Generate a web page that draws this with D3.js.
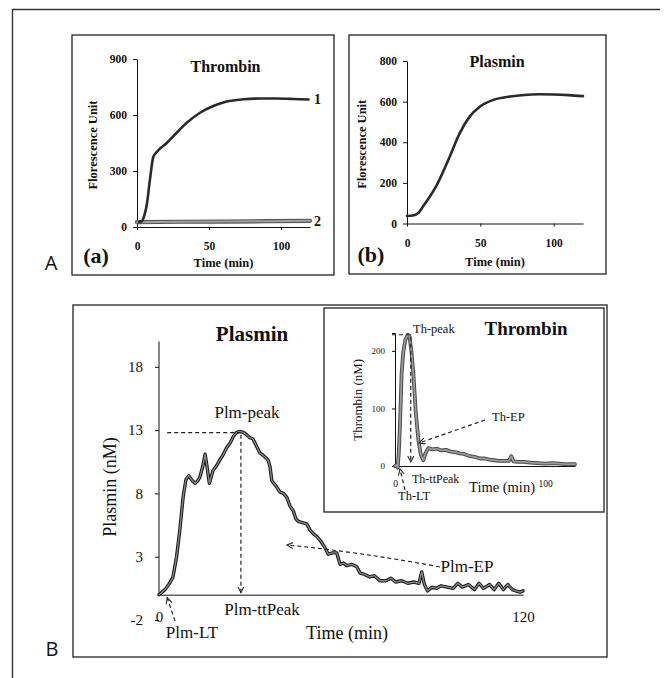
<!DOCTYPE html>
<html>
<head>
<meta charset="utf-8">
<script src="https://cdn.jsdelivr.net/npm/d3@7"></script>
<style>
  html, body { margin: 0; padding: 0; background: #fff; }
  svg { display: block; }
  text { font-family: "Liberation Serif", "DejaVu Serif", serif; fill: #111; }
  .sans { font-family: "Open Sans", "Liberation Sans", sans-serif; }
  .axis path, .axis line { stroke: #111; stroke-width: 1; }
  .box { fill: none; stroke: #222; stroke-width: 1.3; }
  .dash { fill: none; stroke: #222; stroke-width: 1.2; stroke-dasharray: 4 3; }
</style>
</head>
<body>
<svg id="fig" width="668" height="678"></svg>
<script>
// ---------- data ----------

// A(a) thrombin substrate fluorescence, curves 1 and 2
const aTime1  = [1.5, 3.2, 5, 6.7, 9, 11.3, 14.1, 20.6, 27.5, 34.5, 43.7, 52.9, 62.2, 73.7, 85.3, 96.8, 108.4, 119];
const aCurve1 = [26, 30, 60, 115, 255, 375, 405, 450, 505, 558, 612, 648, 672, 684, 688, 688, 686, 683];
const aTime2  = [0, 30, 60, 90, 120];
const aCurve2 = [26, 28, 29, 31, 33];
const aYTicks = [0, 300, 600, 900];

// A(b) plasmin substrate fluorescence
const bTime  = [0, 4, 7.5, 11, 15.5, 20, 24, 29.1, 35.9, 42.7, 49.6, 58.7, 70.2, 80, 90, 100, 110, 120];
const bCurve = [37, 39, 50, 85, 132, 185, 245, 329, 444, 526, 575, 608, 625, 633, 636, 635, 632, 627];
const bYTicks = [0, 200, 400, 600, 800];

const smallXTicks = [0, 50, 100];

// B plasmin generation (nM)
const plmTime = [0, 2, 3.5, 4.6, 5.8, 6.9, 8, 8.9, 9.8, 11, 11.9, 12.8, 13.5, 14.5, 15.2, 15.9, 16.6, 17.8, 19, 20,
  21, 22.3, 23.5, 24.5, 25.5, 26.7, 28, 29, 30, 31, 32.2, 33.3, 34.4, 35.3, 36, 36.6, 37.2, 38.5, 39.9, 41,
  42.1, 43.2, 44.3, 45.1, 45.9, 47.3, 48.7, 49.8, 50.9, 52, 53.1, 54.5, 55.8, 57.2, 58.6, 59.7, 60.8, 61.9, 63.5, 65.2,
  66.3, 67.8, 69.5, 71, 72.8, 74.7, 76.5, 78, 80, 82, 84, 85.7, 86.6, 87.5, 88.5, 90, 91.5, 93, 95, 97,
  98.5, 100, 102, 104, 105.5, 107, 109, 110.5, 112, 113.5, 115, 116.5, 117.6, 119, 120];
const plmConc = [0, 0.4, 0.9, 1.4, 3.0, 5.2, 7.8, 9.1, 9.4, 9.0, 8.8, 9.0, 9.3, 10.2, 11.1, 10.0, 8.8, 9.8, 10.2, 10.6,
  11.0, 11.6, 12.0, 12.5, 12.8, 12.9, 12.8, 12.6, 12.4, 12.3, 11.7, 11.2, 11.0, 10.8, 10.6, 10.1, 9.0, 8.6, 8.1, 8.0,
  7.7, 7.0, 6.6, 6.0, 5.8, 5.7, 5.6, 5.1, 4.8, 4.6, 4.3, 3.8, 3.2, 3.3, 3.3, 2.4, 2.5, 2.3, 2.4, 2.2,
  1.7, 1.6, 1.4, 1.5, 1.1, 1.1, 1.3, 1.0, 1.1, 0.9, 1.0, 0.9, 1.8, 0.8, 0.3, 0.6, 0.5, 0.7, 0.6, 0.5,
  0.9, 0.6, 0.8, 0.4, 0.9, 0.5, 0.8, 0.4, 0.9, 0.4, 0.8, 0.4, 0.3, 0.2, 0.3];
const plmYTicks = [-2, 3, 8, 13, 18];
const plmXTicks = [0, 120];
const plmPeak = { t: 27, v: 12.8 };

// B inset: thrombin generation (nM)
const thTime = [0, 1, 1.8, 2.5, 3.3, 4.4, 5.5, 7, 8.5, 9.6, 11, 12.2, 13.8, 15.6, 17.2, 18.9, 20.3, 22.2, 25, 28,
  31, 34, 37, 40, 43, 46, 50, 53, 56.7, 60, 63, 66, 69, 72, 76, 77.5, 79, 82, 86, 90,
  95, 100, 105, 110, 115, 120];
const thConc = [0, 2, -3, 22, 70, 160, 198, 220, 228, 226, 198, 162, 95, 45, 20, 10, 22, 31, 29, 30,
  27, 28, 25, 24, 22, 21, 17, 16, 13, 13, 11, 10, 9, 9, 9, 17, 8, 7, 7, 6,
  5, 4, 5, 4, 3, 3];
const thYTicks = [0, 100, 200];
const thXTicks = [0, 100];
const thPeak = { t: 10.5, v: 228 };

// ---------- drawing ----------
const svg = d3.select('#fig');
const plain = d => String(d);   // keep ascii hyphen for "-2"

const defs = svg.append('defs');
defs.append('marker')
    .attr('id', 'arr')
    .attr('viewBox', '0 0 8 8')
    .attr('refX', 7).attr('refY', 4)
    .attr('markerWidth', 7).attr('markerHeight', 7)
    .attr('markerUnits', 'userSpaceOnUse')
    .attr('orient', 'auto')
  .append('path')
    .attr('d', 'M0,0.5 L7,4 L0,7.5')
    .attr('fill', 'none')
    .attr('stroke', '#222')
    .attr('stroke-width', 1.2);

// outer frame (top and left edges only are visible)
svg.append('path')
    .attr('d', 'M12.5,678 L12.5,9.5 L660,9.5')
    .attr('fill', 'none').attr('stroke', '#333').attr('stroke-width', 1.4);

function txt(x, y, s, size, opts = {}) {
    const t = svg.append('text')
        .attr('x', x).attr('y', y)
        .attr('font-size', size)
        .attr('text-anchor', opts.anchor || 'middle')
        .attr('font-weight', opts.bold ? 'bold' : 'normal')
        .text(s);
    if (opts.rotate) t.attr('transform', `rotate(-90,${x},${y})`);
    if (opts.cls) t.attr('class', opts.cls);
    return t;
}

function styleAxis(g, size, bold) {
    g.attr('class', 'axis');
    g.selectAll('text')
        .attr('font-size', size)
        .attr('font-weight', bold ? 'bold' : 'normal')
        .attr('font-family', '"Liberation Serif", serif')
        .attr('fill', '#111');
}

function drawLine(x, y, ts, vs, stroke, width, curve) {
    const pts = ts.map((t, i) => [t, vs[i]]);
    const line = d3.line()
        .x(d => x(d[0]))
        .y(d => y(d[1]))
        .curve(curve || d3.curveLinear);
    svg.append('path')
        .datum(pts)
        .attr('d', line)
        .attr('fill', 'none')
        .attr('stroke', stroke)
        .attr('stroke-width', width)
        .attr('stroke-linejoin', 'round')
        .attr('stroke-linecap', 'round');
}

// small panels in A
function smallPanel(p) {
    svg.append('rect').attr('class', 'box')
        .attr('x', p.box[0]).attr('y', p.box[1])
        .attr('width', p.box[2] - p.box[0]).attr('height', p.box[3] - p.box[1]);

    const x = d3.scaleLinear().domain([0, 120]).range(p.xr);
    const y = d3.scaleLinear().domain(p.yd).range(p.yr);

    svg.append('g')
        .attr('transform', `translate(${p.xr[0]},0)`)
        .call(d3.axisLeft(y).tickValues(p.yTicks).tickSize(4).tickSizeOuter(0).tickPadding(6))
        .call(g => styleAxis(g, 11.5, true));

    svg.append('g')
        .attr('transform', `translate(0,${y(0)})`)
        .call(d3.axisBottom(x).tickValues(smallXTicks).tickSize(3).tickSizeOuter(0).tickPadding(12))
        .call(g => styleAxis(g, 11.5, true));

    p.lines(x, y);

    const xm = (p.xr[0] + p.xr[1]) / 2;
    txt(xm + 2, p.titleY, p.title, 16, { bold: true });
    txt(xm, p.box[3] - 8, 'Time (min)', 12.5, { bold: true });
    txt(p.ylabX, (p.yr[0] + p.yr[1]) / 2 + 2, 'Florescence Unit', 12.5, { bold: true, rotate: true });
    txt(p.tagX, p.box[3] - 12, p.tag, 22, { bold: true });
}

smallPanel({
    box: [72, 35, 334, 275],
    xr: [137, 310], yd: [0, 900], yr: [227, 59], yTicks: aYTicks,
    title: 'Thrombin', titleY: 72, ylabX: 97, tag: '(a)', tagX: 96,
    lines: (x, y) => {
        drawLine(x, y, aTime2, aCurve2, '#555', 4.2);
        drawLine(x, y, aTime2, aCurve2, '#a0a0a0', 2);
        drawLine(x, y, aTime1, aCurve1, '#2a2a2a', 2.6, d3.curveMonotoneX);
        txt(x(120) + 4, y(686) + 5, '1', 14, { bold: true, anchor: 'start' });
        txt(x(120) + 4, y(33) + 5, '2', 14, { bold: true, anchor: 'start' });
    }
});

smallPanel({
    box: [349, 35, 606, 274],
    xr: [407, 583], yd: [0, 800], yr: [223.5, 61], yTicks: bYTicks,
    title: 'Plasmin', titleY: 67, ylabX: 366, tag: '(b)', tagX: 371,
    lines: (x, y) => {
        drawLine(x, y, bTime, bCurve, '#2a2a2a', 2.6, d3.curveMonotoneX);
    }
});

txt(51, 270, 'A', 20, { cls: 'sans' });
txt(52, 656, 'B', 20, { cls: 'sans' });

// panel B
svg.append('rect').attr('class', 'box')
    .attr('x', 73).attr('y', 305).attr('width', 534).attr('height', 352);

const xB = d3.scaleLinear().domain([0, 120]).range([159, 523]);
const yB = d3.scaleLinear().domain([-2, 20]).range([620, 341.5]);

svg.append('g')
    .attr('transform', `translate(${xB(0)},0)`)
    .call(d3.axisLeft(yB).tickValues(plmYTicks).tickFormat(plain).tickSize(4).tickSizeOuter(0).tickPadding(12))
    .call(g => styleAxis(g, 15, false))
    .call(g => g.select('.domain').remove());
svg.append('line')
    .attr('x1', xB(0)).attr('x2', xB(0))
    .attr('y1', yB(0)).attr('y2', yB(20))
    .attr('stroke', '#111');

svg.append('g')
    .attr('transform', `translate(0,${yB(0)})`)
    .call(d3.axisBottom(xB).tickValues(plmXTicks).tickSize(0).tickPadding(17))
    .call(g => styleAxis(g, 15, false));

drawLine(xB, yB, plmTime, plmConc, '#1a1a1a', 3.4);
drawLine(xB, yB, plmTime, plmConc, '#8a8a8a', 1.3);

txt(252, 341, 'Plasmin', 21, { bold: true });
txt(347, 639, 'Time (min)', 18);
txt(116, yB(8.5), 'Plasmin (nM)', 18, { rotate: true });

// peak / time-to-peak guides
svg.append('path').attr('class', 'dash')
    .attr('d', `M${xB(2.7)},${yB(plmPeak.v)} L${xB(plmPeak.t)},${yB(plmPeak.v)}`);
svg.append('path').attr('class', 'dash')
    .attr('d', `M${xB(plmPeak.t)},${yB(plmPeak.v) + 2} L${xB(plmPeak.t)},${yB(0) - 2}`)
    .attr('marker-end', 'url(#arr)');
txt(247, 418, 'Plm-peak', 17);
txt(262, 615, 'Plm-ttPeak', 17);

// lag time
svg.append('path').attr('class', 'dash')
    .attr('d', `M175,621 L${xB(2.7)},${yB(0) + 3}`)
    .attr('marker-end', 'url(#arr)');
txt(192, 638, 'Plm-LT', 17);

// endogenous potential
svg.append('path').attr('class', 'dash')
    .attr('d', 'M440,567 Q360,552 287,545')
    .attr('marker-end', 'url(#arr)');
txt(467, 572, 'Plm-EP', 17);

// inset: thrombin generation
svg.append('rect').attr('class', 'box')
    .attr('x', 324).attr('y', 308).attr('width', 280).attr('height', 204);

const xI = d3.scaleLinear().domain([0, 120]).range([395, 575]);
const yI = d3.scaleLinear().domain([0, 231]).range([466, 333]);

svg.append('g')
    .attr('transform', `translate(${xI(0)},0)`)
    .call(d3.axisLeft(yI).tickValues(thYTicks).tickSize(3).tickSizeOuter(3).tickPadding(7))
    .call(g => styleAxis(g, 9, false));

svg.append('g')
    .attr('transform', `translate(0,${yI(0)})`)
    .call(d3.axisBottom(xI).tickValues(thXTicks).tickSize(0).tickPadding(14))
    .call(g => styleAxis(g, 9.5, false));

drawLine(xI, yI, thTime, thConc, '#4a4a4a', 3.8);
drawLine(xI, yI, thTime, thConc, '#9a9a9a', 1.8);

txt(526, 335, 'Thrombin', 19, { bold: true });
txt(502, 492, 'Time (min)', 14.5);
txt(362, yI(115), 'Thrombin (nM)', 13, { rotate: true });

svg.append('path').attr('class', 'dash')
    .attr('d', `M${xI(-2)},${yI(thPeak.v)} L${xI(thPeak.t) - 1},${yI(thPeak.v)}`);
svg.append('path').attr('class', 'dash')
    .attr('d', `M${xI(thPeak.t)},${yI(thPeak.v) + 2} L${xI(thPeak.t)},${yI(7)}`)
    .attr('marker-end', 'url(#arr)');
txt(413, 333, 'Th-peak', 12.5, { anchor: 'start' });
txt(412, 483, 'Th-ttPeak', 12, { anchor: 'start' });

svg.append('path').attr('class', 'dash')
    .attr('d', 'M405,490 L400,469')
    .attr('marker-end', 'url(#arr)');
txt(398, 500, 'Th-LT', 12.5, { anchor: 'start' });

svg.append('path').attr('class', 'dash')
    .attr('d', 'M485,420 L419,443')
    .attr('marker-end', 'url(#arr)');
txt(492, 421, 'Th-EP', 12.5, { anchor: 'start' });
</script>
</body>
</html>
